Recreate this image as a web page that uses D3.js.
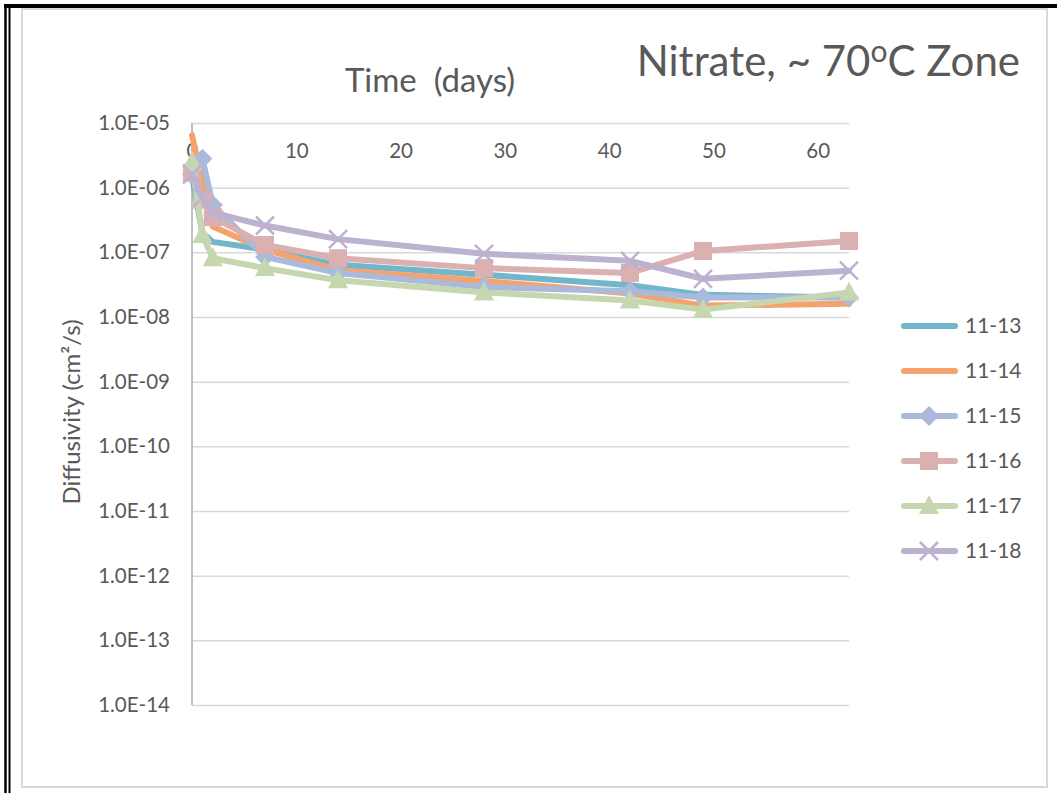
<!DOCTYPE html>
<html>
<head>
<meta charset="utf-8">
<script src="https://cdn.jsdelivr.net/npm/d3@7"></script>
<style>
  body { margin: 0; background: #fff; }
  text { font-family: Lato, "Open Sans", sans-serif; fill: #595959; }
</style>
</head>
<body>
<svg id="chart"></svg>
<script>
const days = [0, 1, 2, 7, 14, 28, 42, 49, 63];
const xTicks = [0, 10, 20, 30, 40, 50, 60];
const yTicks = [1e-5, 1e-6, 1e-7, 1e-8, 1e-9, 1e-10, 1e-11, 1e-12, 1e-13, 1e-14];

const seriesNames = ['11-13', '11-14', '11-15', '11-16', '11-17', '11-18'];
const s1113 = [1.5e-6, 2.0e-7, 1.45e-7, 1.1e-7, 6.4e-8, 4.5e-8, 3.1e-8, 2.2e-8, 2.0e-8];
const s1114 = [6.5e-6, 1.2e-6, 2.5e-7, 1.1e-7, 5.3e-8, 3.6e-8, 2.3e-8, 1.5e-8, 1.6e-8];
const s1115 = [1.6e-6, 2.8e-6, 5.4e-7, 8.5e-8, 4.8e-8, 2.9e-8, 2.5e-8, 2.0e-8, 2.0e-8];
const s1116 = [1.7e-6, 6.5e-7, 3.5e-7, 1.3e-7, 8.1e-8, 5.7e-8, 4.8e-8, 1.05e-7, 1.5e-7];
const s1117 = [2.5e-6, 1.85e-7, 8.1e-8, 5.7e-8, 3.7e-8, 2.4e-8, 1.8e-8, 1.3e-8, 2.4e-8];
const s1118 = [1.6e-6, 7.0e-7, 4.1e-7, 2.6e-7, 1.6e-7, 9.5e-8, 7.4e-8, 3.9e-8, 5.2e-8];

const seriesValues = [s1113, s1114, s1115, s1116, s1117, s1118];
const colors = ['#72b6cc', '#f6a26e', '#a9badb', '#dab0b0', '#c6d7b0', '#bcb2d0'];
const markers = [null, null, 'diamond', 'square', 'triangle', 'cross'];

const width = 1057, height = 793;
const plot = {left: 192, right: 849, top: 123, bottom: 705};

const svg = d3.select('#chart')
  .attr('width', width)
  .attr('height', height);

// frame
svg.append('rect')
  .attr('x', 22).attr('y', 9).attr('width', 1025).attr('height', 778)
  .attr('fill', '#fff').attr('stroke', '#d9d9d9').attr('stroke-width', 2);
svg.append('line').attr('x1', 5.5).attr('x2', 5.5).attr('y1', 4).attr('y2', height)
  .attr('stroke', '#000').attr('stroke-width', 2.5);
svg.append('line').attr('x1', 9.5).attr('x2', 9.5).attr('y1', 7).attr('y2', height)
  .attr('stroke', '#000').attr('stroke-width', 2);
svg.append('line').attr('x1', 4).attr('x2', width).attr('y1', 6).attr('y2', 6)
  .attr('stroke', '#000').attr('stroke-width', 4);

const x = d3.scaleLinear().domain([0, 63]).range([plot.left, plot.right]);
const y = d3.scaleLog().domain([1e-14, 1e-5]).range([plot.bottom, plot.top]);

// gridlines + y labels
const yAxis = d3.axisLeft(y)
  .tickValues(yTicks)
  .tickSize(-(plot.right - plot.left))
  .tickPadding(22)
  .tickFormat(d => {
    const e = Math.round(Math.log10(d));
    return '1.0E-' + String(-e).padStart(2, '0');
  });
const gy = svg.append('g')
  .attr('transform', `translate(${plot.left},0)`)
  .call(yAxis);
gy.select('.domain').remove();
gy.selectAll('.tick line').attr('stroke', '#d9d9d9').attr('stroke-width', 1.5);
gy.selectAll('.tick text').attr('font-size', 20.5).attr('fill', '#595959')
  .style('font-family', 'Lato, sans-serif');

// vertical axis line
svg.append('line')
  .attr('x1', plot.left).attr('x2', plot.left)
  .attr('y1', plot.top).attr('y2', plot.bottom)
  .attr('stroke', '#bfbfbf').attr('stroke-width', 2);

// x axis at the top, labels inside
const xAxis = d3.axisBottom(x).tickValues(xTicks).tickSize(0).tickPadding(20);
const gx = svg.append('g')
  .attr('transform', `translate(0,${plot.top})`)
  .call(xAxis);
gx.select('.domain').remove();
gx.selectAll('.tick text').attr('font-size', 20.5).attr('fill', '#595959')
  .style('font-family', 'Lato, sans-serif');

// series
const line = d3.line().x((d, i) => x(days[i])).y(d => y(d));

function drawMarker(g, kind, cx, cy, color) {
  if (kind === 'diamond') {
    g.append('path').attr('d', `M${cx},${cy - 10}L${cx + 10},${cy}L${cx},${cy + 10}L${cx - 10},${cy}Z`)
      .attr('fill', color);
  } else if (kind === 'square') {
    g.append('rect').attr('x', cx - 9).attr('y', cy - 9).attr('width', 18).attr('height', 18)
      .attr('fill', color);
  } else if (kind === 'triangle') {
    g.append('path').attr('d', `M${cx},${cy - 11}L${cx + 10},${cy + 8}L${cx - 10},${cy + 8}Z`)
      .attr('fill', color);
  } else if (kind === 'cross') {
    g.append('path').attr('d', `M${cx - 9},${cy - 9}L${cx + 9},${cy + 9}M${cx + 9},${cy - 9}L${cx - 9},${cy + 9}`)
      .attr('stroke', color).attr('stroke-width', 2.5).attr('fill', 'none');
  }
}

seriesValues.forEach((vals, si) => {
  const g = svg.append('g');
  g.append('path')
    .datum(vals)
    .attr('d', line)
    .attr('fill', 'none')
    .attr('stroke', colors[si])
    .attr('stroke-width', 6)
    .attr('stroke-linejoin', 'round')
    .attr('stroke-linecap', 'round');
  if (markers[si]) {
    vals.forEach((v, i) => drawMarker(g, markers[si], x(days[i]), y(v), colors[si]));
  }
});

// legend
const legend = svg.append('g');
seriesNames.forEach((name, i) => {
  const ly = 326 + i * 45;
  legend.append('line')
    .attr('x1', 904).attr('x2', 955).attr('y1', ly).attr('y2', ly)
    .attr('stroke', colors[i]).attr('stroke-width', 6).attr('stroke-linecap', 'round');
  if (markers[i]) drawMarker(legend, markers[i], 929, ly, colors[i]);
  legend.append('text')
    .attr('x', 965).attr('y', ly + 7)
    .attr('font-size', 21)
    .text(name);
});

// titles
const title = svg.append('text')
  .attr('x', 1020).attr('y', 76)
  .attr('text-anchor', 'end')
  .attr('font-size', 42);
title.append('tspan').text('Nitrate, ~ 70');
title.append('tspan').attr('font-size', 30).attr('dy', -14).text('o');
title.append('tspan').attr('dy', 14).text('C Zone');

svg.append('text')
  .attr('x', 430).attr('y', 92)
  .attr('text-anchor', 'middle')
  .attr('font-size', 33)
  .attr('xml:space', 'preserve')
  .text('Time  (days)');

svg.append('text')
  .attr('transform', 'translate(80,412) rotate(-90)')
  .attr('text-anchor', 'middle')
  .attr('font-size', 24)
  .text('Diffusivity (cm²/s)');
</script>
</body>
</html>
